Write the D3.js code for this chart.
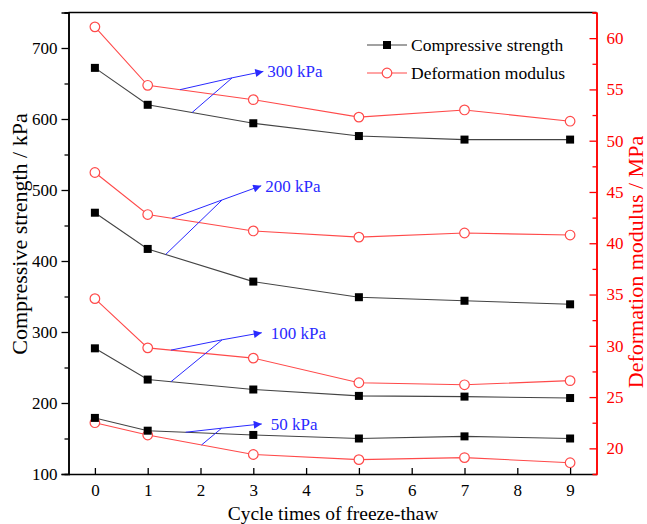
<!DOCTYPE html>
<html>
<head>
<meta charset="utf-8">
<script src="https://cdn.jsdelivr.net/npm/d3@7/dist/d3.min.js"></script>
<style>
html,body{margin:0;padding:0;background:#fff;}
svg{display:block;font-family:"Liberation Serif","Times New Roman",serif;}
svg text{font-family:"Liberation Serif","Times New Roman",serif;}
</style>
</head>
<body>
<svg id="chart" width="647" height="524"></svg>
<script>
// ---- data ----
const cycles = [0, 1, 3, 5, 7, 9];
const groups = ["300 kPa", "200 kPa", "100 kPa", "50 kPa"];
const strength300 = [672, 620, 594, 576, 571, 571];
const strength200 = [468, 417, 371, 349, 344, 339];
const strength100 = [277, 233, 219, 210, 209, 207];
const strength50  = [179, 161, 155, 150, 153, 150];
const modulus300 = [61.1, 55.4, 54.0, 52.3, 53.0, 51.9];
const modulus200 = [46.9, 42.8, 41.2, 40.6, 41.0, 40.8];
const modulus100 = [34.6, 29.8, 28.8, 26.4, 26.2, 26.6];
const modulus50  = [22.5, 21.3, 19.4, 18.9, 19.1, 18.6];
const xTicks = [0,1,2,3,4,5,6,7,8,9];
const leftTicks = [100,200,300,400,500,600,700];
const rightTicks = [20,25,30,35,40,45,50,55,60];
// annotation anchors in data units: cycle on each line, junction and arrow tip (left-axis units)
const annoRedX   = [1.61, 1.46, 1.44, 2.02];
const annoBlackX = [1.84, 1.34, 1.44, 1.72];
const annoJunction = [[2.60, 658], [2.41, 486], [2.41, 289], [2.40, 164.5]];
const annoTip      = [[3.19, 667], [3.15, 506], [3.16, 299], [3.16, 170.5]];

const strengths = [strength300, strength200, strength100, strength50];
const moduli = [modulus300, modulus200, modulus100, modulus50];

// ---- scales ----
const svg = d3.select("#chart");
const L = 68.5, R = 596.5, T = 12.5, B = 474;
const x = d3.scaleLinear().domain([-0.5, 9.5]).range([L, R]);
const yL = d3.scaleLinear().domain([100, 750]).range([B, T]);
const yR = d3.scaleLinear().domain([17.5, 62.5]).range([B, T]);

const RED = "#ff0000", SERIES_RED = "#ff4a4a", BLUE = "#2a2aff";
const FONT = "Liberation Serif";

// frame top
svg.append("line").attr("x1", L).attr("x2", R).attr("y1", T).attr("y2", T)
  .attr("stroke", "#000").attr("stroke-width", 1.5);

// left axis (outward ticks)
const gL = svg.append("g").attr("transform", `translate(${L},0)`);
gL.call(d3.axisLeft(yL).tickValues(d3.range(150, 751, 100)).tickSize(4).tickFormat(""));
gL.call(g => g.append("g").call(d3.axisLeft(yL).tickValues(leftTicks).tickSize(7).tickPadding(4).tickFormat(d3.format("d"))));
gL.selectAll("path.domain").attr("stroke", "#000").attr("stroke-width", 1.5);
gL.selectAll("line").attr("stroke", "#000").attr("stroke-width", 1.3);
gL.selectAll("text").attr("font-size", 17).attr("font-family", FONT).attr("fill", "#000");

// bottom axis (inward ticks)
const gB = svg.append("g").attr("transform", `translate(0,${B})`);
gB.call(d3.axisBottom(x).tickValues(xTicks).tickSizeInner(-6).tickSizeOuter(0).tickPadding(10).tickFormat(d3.format("d")));
gB.selectAll("path.domain").attr("stroke", "#000").attr("stroke-width", 1.5);
gB.selectAll("line").attr("stroke", "#000").attr("stroke-width", 1.3);
gB.selectAll("text").attr("font-size", 17).attr("font-family", FONT).attr("fill", "#000");

// right axis (inward ticks, red)
const gR = svg.append("g").attr("transform", `translate(${R},0)`);
gR.call(d3.axisRight(yR).tickValues(d3.range(22.5, 62.6, 5)).tickSize(-4).tickFormat(""));
gR.call(g => g.append("g").call(d3.axisRight(yR).tickValues(rightTicks).tickSizeInner(-7).tickSizeOuter(0).tickPadding(10).tickFormat(d3.format("d"))));
gR.selectAll("path.domain").attr("stroke", RED).attr("stroke-width", 1.5);
gR.selectAll("line").attr("stroke", RED).attr("stroke-width", 1.3);
gR.selectAll("text").attr("font-size", 17).attr("font-family", FONT).attr("fill", RED);

// axis titles
svg.append("text").attr("transform", `translate(27,234) rotate(-90)`)
  .attr("text-anchor", "middle").attr("font-size", 22).attr("font-family", FONT).attr("fill", "#000")
  .text("Compressive strength / kPa");
svg.append("text").attr("transform", `translate(643,262) rotate(-90)`)
  .attr("text-anchor", "middle").attr("font-size", 22).attr("font-family", FONT).attr("fill", RED)
  .text("Deformation modulus / MPa");
svg.append("text").attr("x", 333).attr("y", 520)
  .attr("text-anchor", "middle").attr("font-size", 19.5).attr("font-family", FONT).attr("fill", "#000")
  .text("Cycle times of freeze-thaw");

// series
const lineL = d3.line().x((d, i) => x(cycles[i])).y(d => yL(d));
const lineR = d3.line().x((d, i) => x(cycles[i])).y(d => yR(d));

moduli.forEach(m => {
  svg.append("path").attr("d", lineR(m)).attr("fill", "none")
    .attr("stroke", SERIES_RED).attr("stroke-width", 1.1);
});
strengths.forEach(s => {
  svg.append("path").attr("d", lineL(s)).attr("fill", "none")
    .attr("stroke", "#444").attr("stroke-width", 1.1);
});

// interpolation helper on a series in pixel space
function onLine(vals, scale, cx) {
  let i = 0;
  while (i < cycles.length - 2 && cycles[i + 1] < cx) i++;
  const t = (cx - cycles[i]) / (cycles[i + 1] - cycles[i]);
  return [x(cx), scale(vals[i]) + t * (scale(vals[i + 1]) - scale(vals[i]))];
}

// annotations
const defs = svg.append("defs");
defs.append("marker").attr("id", "arrow").attr("viewBox", "0 0 10 10")
  .attr("refX", 10).attr("refY", 5).attr("markerWidth", 11).attr("markerHeight", 8)
  .attr("markerUnits", "userSpaceOnUse").attr("orient", "auto")
  .append("path").attr("d", "M0,0 L10,5 L0,10 Z").attr("fill", BLUE);

groups.forEach((g, k) => {
  const pr = onLine(moduli[k], yR, annoRedX[k]);
  const pb = onLine(strengths[k], yL, annoBlackX[k]);
  const j = [x(annoJunction[k][0]), yL(annoJunction[k][1])];
  const t = [x(annoTip[k][0]), yL(annoTip[k][1])];
  svg.append("line").attr("x1", pr[0]).attr("y1", pr[1]).attr("x2", j[0]).attr("y2", j[1])
    .attr("stroke", BLUE).attr("stroke-width", 1);
  svg.append("line").attr("x1", pb[0]).attr("y1", pb[1]).attr("x2", j[0]).attr("y2", j[1])
    .attr("stroke", BLUE).attr("stroke-width", 1);
  svg.append("line").attr("x1", j[0]).attr("y1", j[1]).attr("x2", t[0]).attr("y2", t[1])
    .attr("stroke", BLUE).attr("stroke-width", 1).attr("marker-end", "url(#arrow)");
  svg.append("text").attr("x", t[0] + (k >= 2 ? 9 : 4)).attr("y", t[1] + 6)
    .attr("font-size", 17).attr("font-family", FONT).attr("fill", BLUE).text(g);
});

// markers
moduli.forEach(m => {
  svg.append("g").selectAll("circle").data(m).join("circle")
    .attr("cx", (d, i) => x(cycles[i])).attr("cy", d => yR(d)).attr("r", 4.8)
    .attr("fill", "#fff").attr("stroke", SERIES_RED).attr("stroke-width", 1.2);
});
strengths.forEach(s => {
  svg.append("g").selectAll("rect").data(s).join("rect")
    .attr("x", (d, i) => x(cycles[i]) - 4).attr("y", d => yL(d) - 4)
    .attr("width", 8).attr("height", 8).attr("fill", "#000");
});

// legend
const legend = svg.append("g");
legend.append("line").attr("x1", 367).attr("x2", 407).attr("y1", 45).attr("y2", 45)
  .attr("stroke", "#444").attr("stroke-width", 1.1);
legend.append("rect").attr("x", 383).attr("y", 41).attr("width", 8).attr("height", 8).attr("fill", "#000");
legend.append("text").attr("x", 411).attr("y", 51).attr("font-size", 17.5).attr("font-family", FONT).attr("fill", "#000").text("Compressive strength");
legend.append("line").attr("x1", 367).attr("x2", 407).attr("y1", 73).attr("y2", 73)
  .attr("stroke", SERIES_RED).attr("stroke-width", 1.1);
legend.append("circle").attr("cx", 387).attr("cy", 73).attr("r", 4.8)
  .attr("fill", "#fff").attr("stroke", SERIES_RED).attr("stroke-width", 1.2);
legend.append("text").attr("x", 411).attr("y", 79).attr("font-size", 17.5).attr("font-family", FONT).attr("fill", "#000").text("Deformation modulus");
</script>
</body>
</html>
